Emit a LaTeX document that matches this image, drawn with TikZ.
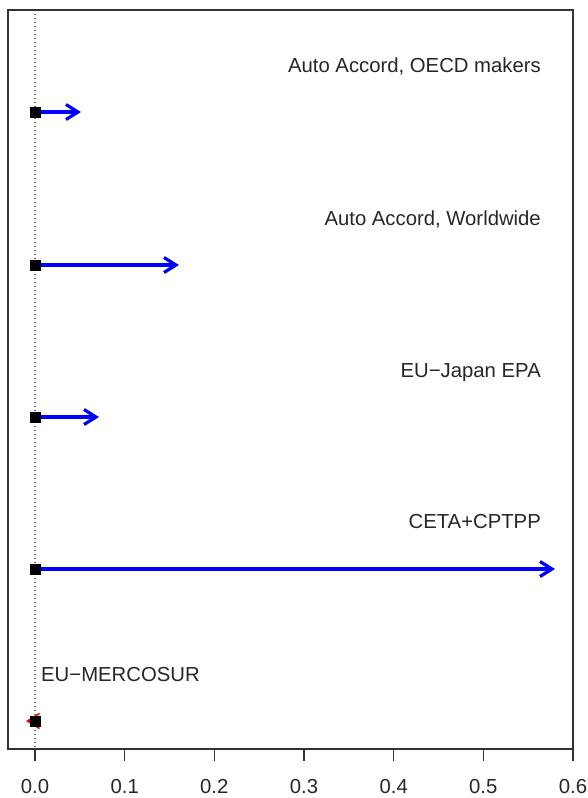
\documentclass[tikz,border=0pt]{standalone}
\usepackage{fontspec}
\setmainfont{Liberation Sans}
\usetikzlibrary{arrows.meta}
\begin{document}
\begin{tikzpicture}[x=1pt,y=-1pt,
  lab/.style={font=\fontsize{20.3}{23}\selectfont, text=black!85, inner sep=0pt},
  ticklab/.style={font=\fontsize{20.3}{23}\selectfont, text=black!85, inner sep=0pt, anchor=base},
  pt/.style={fill=black, minimum size=11pt, inner sep=0pt, draw=none, rectangle},
  eff/.style={draw=blue, line width=3.2pt, -{Straight Barb[length=12pt,width=15pt]}},
  neg/.style={draw=red, line width=1.6pt, -{Straight Barb[length=12pt,width=15pt]}},
  frame/.style={draw=black!80, line width=1.3pt},
  zero/.style={draw=black!60, line width=1.1pt, dash pattern=on 1pt off 3pt}]
\useasboundingbox (0,0) rectangle (588,798);
% zero reference line
\coordinate (ztop) at (35,10);
\coordinate (zbot) at (35,749);
\draw[zero] (ztop) -- (zbot);
% frame
\draw[frame] (8,10) rectangle (573,749);
% ticks and labels
\foreach \i/\v/\x in {0/0.0/35,1/0.1/124.7,2/0.2/214.3,3/0.3/304,4/0.4/393.7,5/0.5/483.3,6/0.6/573}{
  \coordinate (t\i) at (\x,749);
  \coordinate (tb\i) at (\x,761);
  \draw[frame] (t\i) -- (tb\i);
  \node[ticklab] (tl\i) at (\x,793) {\v};
}
% rows
\coordinate (s1) at (35,112);  \coordinate (e1) at (81,112);
\coordinate (s2) at (35,265);  \coordinate (e2) at (179,265);
\coordinate (s3) at (35,417);  \coordinate (e3) at (99,417);
\coordinate (s4) at (35,569);  \coordinate (e4) at (555,569);
\coordinate (s5) at (35,721);  \coordinate (e5) at (26,721);
\draw[eff] (s1) -- (e1);
\draw[eff] (s2) -- (e2);
\draw[eff] (s3) -- (e3);
\draw[eff] (s4) -- (e4);
\draw[neg] (s5) -- (e5);
\node[pt] (p1) at (s1) {};
\node[pt] (p2) at (s2) {};
\node[pt] (p3) at (s3) {};
\node[pt] (p4) at (s4) {};
\node[pt] (p5) at (s5) {};
% labels
\node[lab, anchor=base east] (l1) at (541,72) {Auto Accord, OECD makers};
\node[lab, anchor=base east] (l2) at (541,225) {Auto Accord, Worldwide};
\node[lab, anchor=base east] (l3) at (541,377) {EU−Japan EPA};
\node[lab, anchor=base east] (l4) at (541,528) {CETA+CPTPP};
\node[lab, anchor=base west] (l5) at (41,681) {EU−MERCOSUR};
\end{tikzpicture}
\end{document}
